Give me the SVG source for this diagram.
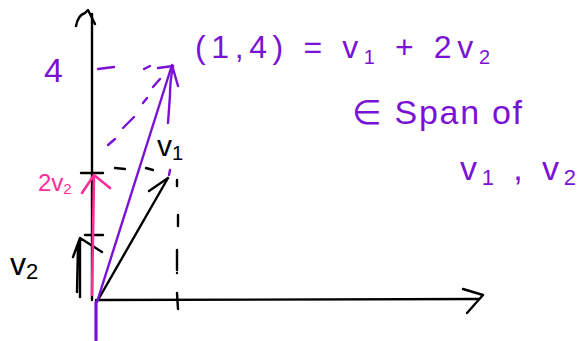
<svg xmlns="http://www.w3.org/2000/svg" width="580" height="341" viewBox="0 0 580 341">
<style>
.k{stroke:#000;stroke-width:2.4;fill:none;stroke-linecap:round;stroke-linejoin:round}
.p{stroke:#7a12d6;stroke-width:2.4;fill:none;stroke-linecap:round;stroke-linejoin:round}
.m{stroke:#ff2d9a;stroke-width:2.6;fill:none;stroke-linecap:round;stroke-linejoin:round}
.t{font-family:"Liberation Sans","DejaVu Sans",sans-serif}
.tp{fill:#7a12d6}
.tk{fill:#000}
.tm{fill:#ff2d9a}
</style>
<rect width="580" height="341" fill="#fff"/>
<g id="axes">
<path class="k" d="M92,300 L92,14"/>
<path class="k" d="M76,26 Q78,15 85,13 L88,10 L95,24"/>
<path class="k" d="M96,300 L479,299"/>
<path class="k" d="M463,289 L483,295 L467,313"/>
<path class="k" d="M177,293 L178,309"/>
<path class="k" d="M81,173 L103,173"/>
<path class="k" d="M85,235 L103,235"/>
</g>
<g id="guides">
<path class="k" d="M115,168 L125,169 M146,168 L153,170"/>
<path class="k" d="M177,180 L177,186 M178,215 L178,226 M177,250 L177,270"/>
<circle cx="177" cy="273" r="1.2" fill="#000"/>
<path class="p" d="M98,69 L114,67 M144,69 L150,66 M158,68 L173,66"/>
<path class="p" d="M108,145 L115,139 M123,128 L134,117 M143,103 L147,98 M153,87 L160,79"/>
<path class="p" d="M173,67 Q170,80 170,95 L168,123"/>
<path class="p" d="M170,170 L169,175"/>
</g>
<g id="connectors">
<path class="k" d="M98,300 L168,178 M149,191 L168,178"/>
<path class="k" d="M80,297 L80,238 M73,257 L80,238 L102,252 M77,292 L78,245"/>
<path class="m" d="M92,295 L94,175 M82,193 L94,175 L110,188"/>
<path class="p" d="M97,302 L172,65 L178,86"/>
<path class="p" d="M96,302 L96,340" style="stroke-width:3.2"/>
</g>
<g id="labels">
<text class="t tp" x="44" y="82" font-size="34">4</text>
<text class="t tp" x="195" y="58" font-size="32" textLength="295" lengthAdjust="spacing">(1,4) = v<tspan font-size="20" dy="6">1</tspan><tspan dy="-6"> + 2v</tspan><tspan font-size="20" dy="6">2</tspan></text>
<text class="t tp" x="352" y="124" font-size="34" textLength="170" lengthAdjust="spacing">∈ Span of</text>
<text class="t tp" x="460" y="180" font-size="34" textLength="116" lengthAdjust="spacing">v<tspan font-size="22" dy="5">1</tspan><tspan dy="-5"> , v</tspan><tspan font-size="22" dy="5">2</tspan></text>
<text class="t tk" x="157" y="156" font-size="30">v<tspan font-size="20" dy="4">1</tspan></text>
<text class="t tk" x="10" y="275" font-size="32">v<tspan font-size="22" dy="4">2</tspan></text>
<text class="t tm" x="38" y="191" font-size="24">2v<tspan font-size="15" dy="3">2</tspan></text>
</g>
</svg>
